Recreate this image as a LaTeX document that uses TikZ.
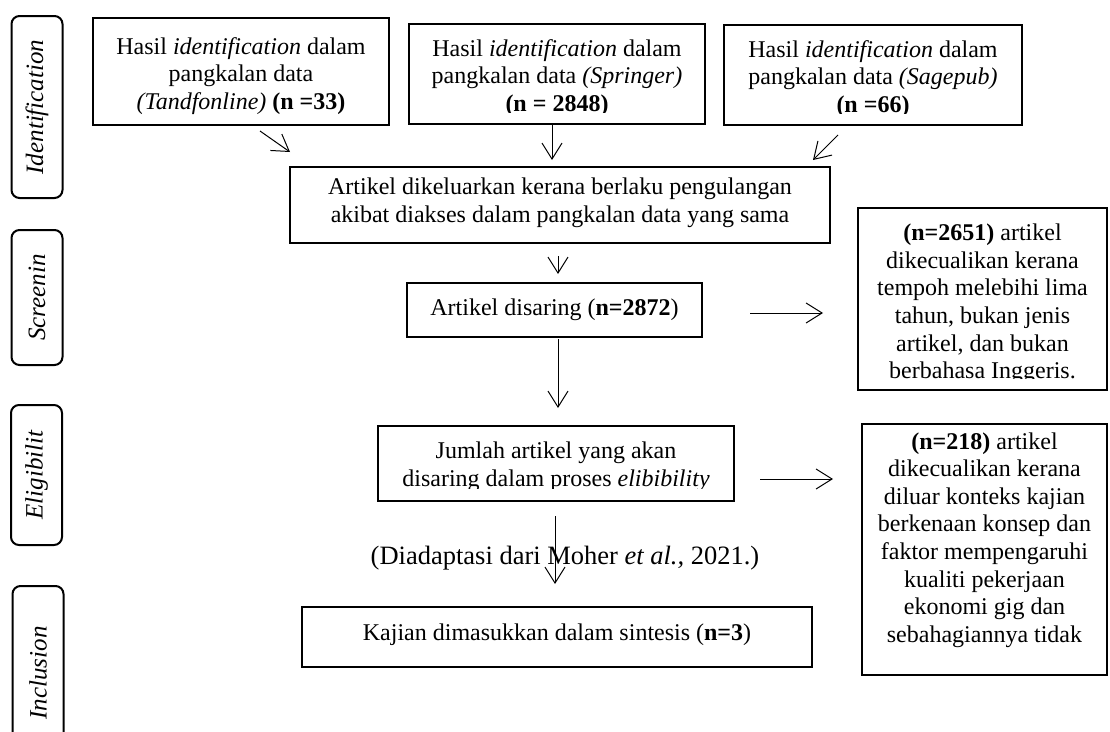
\documentclass[tikz,border=0pt]{standalone}
\usepackage{fontspec}
\setmainfont{Liberation Serif}
\usetikzlibrary{arrows.meta,calc}
\begin{document}
\begin{tikzpicture}[x=1pt,y=-1pt,
  box/.style={draw, line width=2.2pt, inner sep=0pt, outer sep=0pt},
  txt/.style={align=center, inner sep=0pt, font=\fontsize{24}{27.6}\selectfont},
  pill/.style={draw, line width=2pt, rounded corners=8pt, rotate=90, inner sep=0pt,
    minimum height=51pt, font=\itshape\fontsize{25}{28}\selectfont},
  arr/.style={line width=1pt, -{Straight Barb[length=16pt,width=20pt,line width=1pt]}},
  caption/.style={inner sep=0pt, font=\fontsize{26.5}{30}\selectfont}]
\clip (0,0) rectangle (1110,731);
\fill[white] (0,0) rectangle (1110,731);

% phase labels
\node[pill, minimum width=182pt] (P1) at (37,107) {Identification};
\node[pill, minimum width=135pt] (P2) at (37,297.5) {Screenin};
\node[pill, minimum width=140pt] (P3) at (36.5,475) {Eligibilit};
\node[pill, minimum width=174pt] (P4) at (38,673) {Inclusion};

% boxes
\node[box, minimum width=296pt, minimum height=107pt] (A) at (241,71.5) {};
\node[box, minimum width=296pt, minimum height=100pt] (B) at (557,74) {};
\node[box, minimum width=298pt, minimum height=100pt] (C) at (873,75) {};
\node[box, minimum width=540pt, minimum height=76pt] (D) at (560,205) {};
\node[box, minimum width=295pt, minimum height=54pt] (E) at (554.5,310) {};
\node[box, minimum width=249pt, minimum height=182pt] (F) at (982.5,299) {};
\node[box, minimum width=356pt, minimum height=75pt] (G) at (556,463.5) {};
\node[box, minimum width=245pt, minimum height=251pt] (H) at (984.5,549.5) {};
\node[box, minimum width=510pt, minimum height=60pt] (I) at (557,637) {};

% texts
\node[txt] (tA) at (241,76) {Hasil \textit{identification} dalam\\pangkalan data\\\textit{(Tandfonline)} \textbf{(n =33)}};
\begin{scope}
  \clip (B.north west) rectangle ($(B.south east)+(0,-12)$);
  \node[txt] (tB) at (557,78) {Hasil \textit{identification} dalam\\pangkalan data \textit{(Springer)}\\\textbf{(n = 2848)}};
\end{scope}
\begin{scope}
  \clip (C.north west) rectangle ($(C.south east)+(0,-12)$);
  \node[txt] (tC) at (873,79) {Hasil \textit{identification} dalam\\pangkalan data \textit{(Sagepub)}\\\textbf{(n =66)}};
\end{scope}
\node[txt] (tD) at (560,203) {Artikel dikeluarkan kerana berlaku pengulangan\\akibat diakses dalam pangkalan data yang sama};
\node[txt] (tE) at (554.5,310) {Artikel disaring (\textbf{n=2872})};
\begin{scope}
  \clip (F.north west) rectangle ($(F.south east)+(0,-12)$);
  \node[txt] (tF) at (982.5,304) {\textbf{(n=2651)} artikel\\dikecualikan kerana\\tempoh melebihi lima\\tahun, bukan jenis\\artikel, dan bukan\\berbahasa Inggeris.};
\end{scope}
\begin{scope}
  \clip (G.north west) rectangle ($(G.south east)+(0,-13)$);
  \node[txt] (tG) at (556,467) {Jumlah artikel yang akan\\disaring dalam proses \textit{elibibility}};
\end{scope}
\node[txt] (tH) at (984.5,540) {\textbf{(n=218)} artikel\\dikecualikan kerana\\diluar konteks kajian\\berkenaan konsep dan\\faktor mempengaruhi\\kualiti pekerjaan\\ekonomi gig dan\\sebahagiannya tidak};
\node[txt] (tI) at (557,635) {Kajian dimasukkan dalam sintesis (\textbf{n=3})};
\node[caption] (cap) at (565,558) {(Diadaptasi dari Moher \textit{et al.,} 2021.)};

% connectors
\draw[arr] ($(A.south)+(19,6)$) -- ($(D.north west)+(0,-15)$);
\draw[arr] ($(B.south)+(-5,0)$) -- ($(D.north)+(-8,-7)$);
\draw[arr] ($(C.south)+(-35,10)$) -- ($(D.north east)+(-17,-7)$);
\draw[arr] ($(D.south)+(-2,13)$) -- ($(E.north)+(3.5,-9)$);
\draw[arr] ($(E.east)+(48,3)$) -- ($(F.west)+(-35,14)$);
\draw[arr] ($(E.south)+(3.5,2)$) -- ($(G.north)+(2,-18)$);
\draw[arr] ($(G.east)+(26,15.5)$) -- ($(H.west)+(-29,-70.5)$);
\draw[arr] ($(G.south)+(-1,15)$) -- ($(I.north)+(-2,-23)$);
\end{tikzpicture}
\end{document}
